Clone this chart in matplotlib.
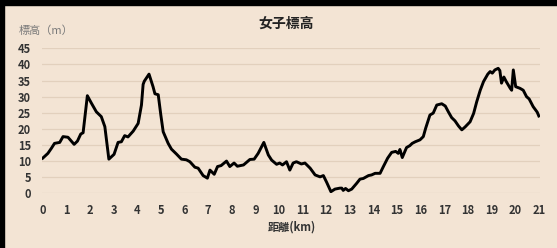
import matplotlib
matplotlib.use("Agg")
import matplotlib.pyplot as plt
from matplotlib.patches import Rectangle

plt.rcParams["font.family"] = ["Noto Sans CJK JP", "DejaVu Sans"]

# 女子コース 標高プロファイル（距離 km, 標高 m）
distance_km = [
    0.0, 0.22, 0.37, 0.5, 0.72, 0.86, 1.07, 1.21, 1.33, 1.47, 1.61, 1.71,
    1.89, 2.06, 2.27, 2.48, 2.63, 2.8, 3.02, 3.19, 3.33, 3.47, 3.61, 3.83,
    4.04, 4.18, 4.25, 4.3, 4.5, 4.67, 4.75, 4.89, 5.0, 5.1, 5.31, 5.45,
    5.66, 5.87, 6.08, 6.23, 6.44, 6.58, 6.79, 6.97, 7.08, 7.26, 7.4, 7.55,
    7.78, 7.92, 8.1, 8.24, 8.5, 8.77, 8.95, 9.12, 9.36, 9.55, 9.69, 9.9,
    10.03, 10.15, 10.32, 10.46, 10.6, 10.74, 10.95, 11.1, 11.32, 11.53, 11.74, 11.88,
    12.02, 12.2, 12.37, 12.58, 12.66, 12.72, 12.82, 12.94, 13.08, 13.29, 13.43, 13.57,
    13.79, 13.92, 14.07, 14.28, 14.42, 14.6, 14.77, 14.94, 15.05, 15.12, 15.22, 15.4,
    15.54, 15.64, 15.77, 15.97, 16.11, 16.21, 16.39, 16.53, 16.68, 16.89, 17.04, 17.17,
    17.31, 17.45, 17.6, 17.74, 17.88, 18.09, 18.24, 18.37, 18.52, 18.66, 18.84, 18.94,
    19.03, 19.14, 19.28, 19.35, 19.42, 19.52, 19.62, 19.79, 19.85, 19.92, 20.02, 20.2,
    20.34, 20.48, 20.59, 20.76, 20.93, 21.0,
]
elevation_m = [
    10.9, 12.4, 14.0, 15.5, 15.8, 17.6, 17.4, 16.2, 15.2, 16.2, 18.4, 18.8,
    30.3, 28.0, 25.3, 23.8, 20.7, 10.6, 12.1, 15.8, 16.0, 17.9, 17.5, 19.3,
    21.7, 27.4, 33.8, 34.8, 37.0, 33.1, 30.9, 30.6, 24.3, 19.1, 15.5, 13.7,
    12.2, 10.6, 10.4, 9.8, 8.1, 7.8, 5.5, 4.7, 7.2, 5.9, 8.3, 8.6,
    10.0, 8.3, 9.4, 8.4, 8.8, 10.5, 10.6, 12.4, 15.8, 11.9, 10.3, 9.0,
    9.4, 8.8, 9.8, 7.2, 9.4, 9.8, 9.1, 9.4, 7.8, 5.7, 5.1, 5.5,
    3.4, 0.5, 1.3, 1.6, 1.6, 0.9, 1.5, 0.8, 1.3, 3.1, 4.4, 4.6,
    5.5, 5.7, 6.2, 6.2, 8.3, 10.9, 12.7, 13.0, 12.4, 13.6, 11.1, 14.2,
    14.8, 15.5, 16.0, 16.6, 17.6, 20.2, 24.3, 24.9, 27.4, 27.8, 27.1, 25.3,
    23.5, 22.5, 20.9, 19.7, 20.6, 22.2, 24.8, 28.4, 32.0, 34.7, 37.0, 37.8,
    37.3, 38.3, 38.8, 38.1, 34.2, 36.1, 34.7, 32.6, 32.0, 38.3, 33.1, 32.6,
    32.0, 30.0, 29.3, 26.9, 25.2, 24.0,
]

x_ticks = list(range(0, 22))
y_ticks = list(range(0, 50, 5))

BG = "#F3E4D4"
GRID = "#E2D0BD"
TICK_COLOR = "#333333"

fig = plt.figure(figsize=(5.57, 2.48), dpi=100, facecolor=BG)
ax = fig.add_axes([0.0754, 0.2206, 0.8941, 0.5844])
ax.set_facecolor(BG)

ax.plot(distance_km, elevation_m, color="black", linewidth=2.1, solid_joinstyle="round")

ax.set_xlim(-0.03, 21.05)
ax.set_ylim(0, 45)
ax.set_xticks(x_ticks)
ax.set_yticks(y_ticks)
ax.grid(axis="y", color=GRID, linewidth=0.9)
ax.set_axisbelow(True)
for s in ax.spines.values():
    s.set_visible(False)
ax.tick_params(axis="both", length=0, labelsize=8, colors=TICK_COLOR)
ax.tick_params(axis="x", pad=8)
ax.tick_params(axis="y", pad=8)
for lab in ax.get_xticklabels() + ax.get_yticklabels():
    lab.set_fontweight("bold")

fig.text(0.513, 0.905, "女子標高", ha="center", va="center",
         fontsize=10, fontweight="bold", color="#222222")
fig.text(0.034, 0.878, "標高（m）", ha="left", va="center",
         fontsize=8, color="#7A7A7A")
fig.text(0.524, 0.085, "距離(km)", ha="center", va="center",
         fontsize=8, fontweight="bold", color="#333333")

# 外枠（上と左の黒い帯）
fig.patches.append(Rectangle((0, 0.98), 1, 0.02, transform=fig.transFigure,
                             color="black", zorder=10))
fig.patches.append(Rectangle((0, 0), 0.007, 1, transform=fig.transFigure,
                             color="black", zorder=10))

fig.savefig("out.png", dpi=100, facecolor=BG)
